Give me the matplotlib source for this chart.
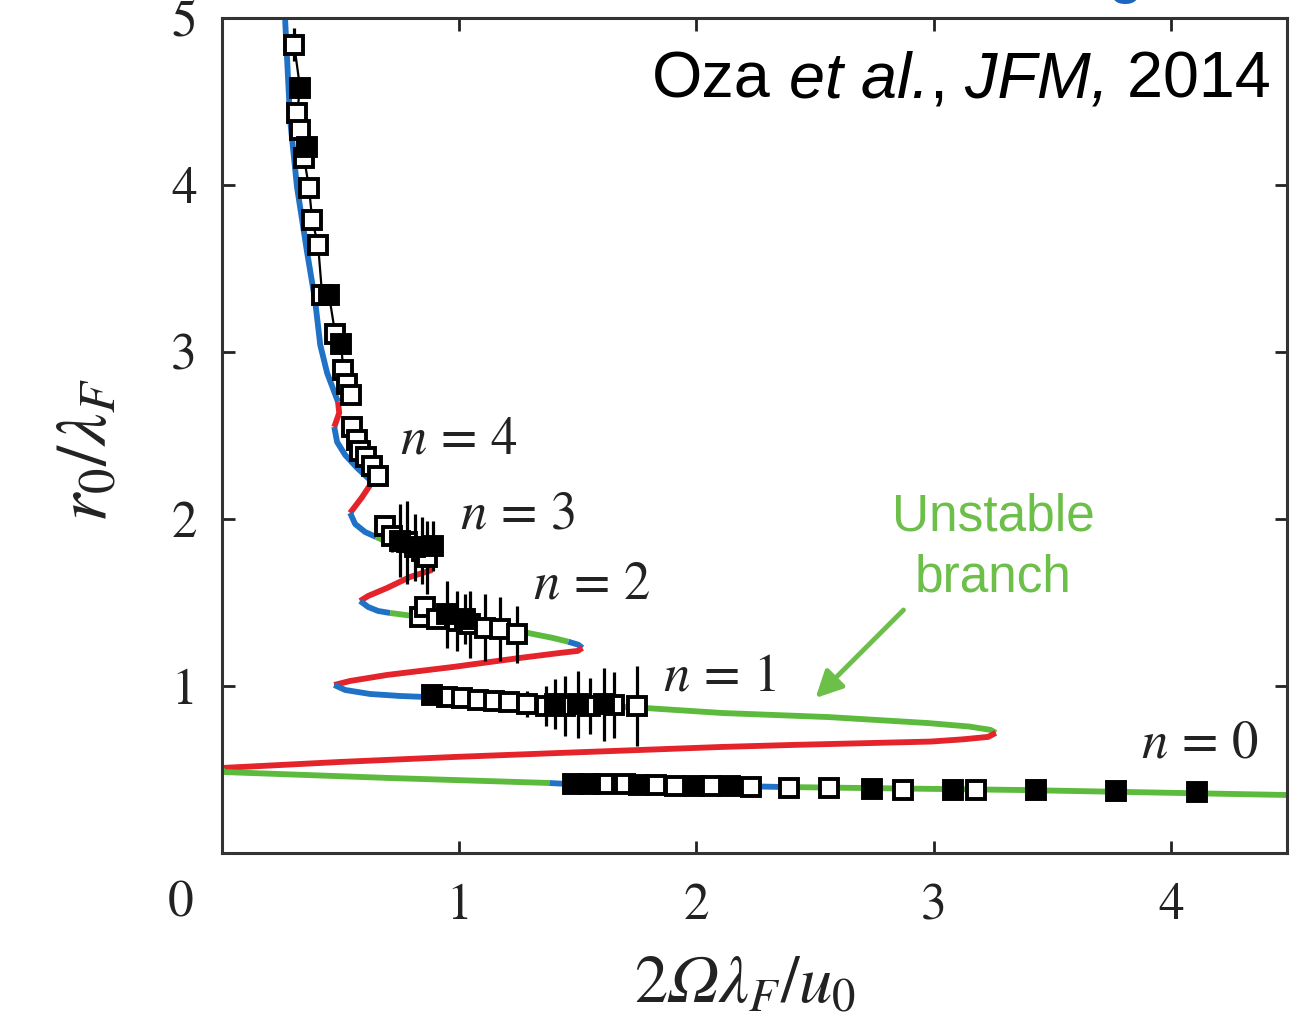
import numpy as np
import matplotlib
matplotlib.use("Agg")
import matplotlib.pyplot as plt

plt.rcParams["font.family"] = "STIXGeneral"
plt.rcParams["mathtext.fontset"] = "stix"
# custom math set, used only for the axis labels (italic capital Omega)
plt.rcParams["mathtext.rm"] = "STIXGeneral"
plt.rcParams["mathtext.it"] = "STIXGeneral:italic"
plt.rcParams["mathtext.sf"] = "STIXGeneral:italic"

BLUE = "#1f72c6"
RED = "#e4232a"
GREEN = "#5cba3c"
LABEL_GREEN = "#6cbf48"

# theory curve, traced in order from the top
curve_x = [0.266, 0.287, 0.316, 0.359, 0.392, 0.414, 0.443, 0.489,
           0.494, 0.473,
           0.485, 0.519, 0.570, 0.633,
           0.591, 0.540,
           0.561, 0.603, 0.650,
           0.751, 0.835, 0.886,
           0.793, 0.696, 0.616, 0.582,
           0.616, 0.658, 0.709,
           0.806, 1.046, 1.270, 1.397, 1.460,
           1.502, 1.519,
           1.500, 1.426, 1.257, 0.975, 0.696, 0.540, 0.473,
           0.519, 0.624, 0.751, 0.857,
           1.342, 1.785, 2.110, 2.553, 2.975, 3.150, 3.240, 3.262,
           3.230, 3.120, 2.987, 2.409, 2.110, 1.426, 0.983, 0.498, 0.0,
           0.0, 0.705, 1.380,
           1.456, 2.165, 2.363,
           3.367, 4.494]
curve_y = [4.988, 4.389, 3.988, 3.593, 3.311, 3.042, 2.874, 2.701,
           2.635, 2.551,
           2.461, 2.383, 2.305, 2.222,
           2.132, 2.036,
           1.970, 1.922, 1.892,
           1.826, 1.754, 1.695,
           1.653, 1.587, 1.539, 1.509,
           1.473, 1.449, 1.437,
           1.419, 1.365, 1.323, 1.287, 1.265,
           1.247, 1.228,
           1.210, 1.198, 1.168, 1.114, 1.066, 1.030, 1.006,
           0.976, 0.952, 0.940, 0.934,
           0.898, 0.868, 0.838, 0.814, 0.778, 0.757, 0.737, 0.719,
           0.695, 0.680, 0.667, 0.647, 0.635, 0.599, 0.575, 0.545, 0.509,
           0.485, 0.449, 0.419,
           0.413, 0.401, 0.395,
           0.377, 0.347]
# last point index of each coloured piece (next piece starts there)
piece_ends = [7, 9, 13, 15, 18, 21, 25, 28, 33, 35, 42, 46, 54, 63, 66, 69, 71]
piece_cols = [BLUE, RED, BLUE, RED, BLUE, GREEN, RED, BLUE, GREEN, BLUE,
              RED, BLUE, GREEN, RED, GREEN, BLUE, GREEN]

# experimental data
top_x = [0.304, 0.329, 0.316, 0.329, 0.359, 0.346, 0.367, 0.380, 0.405, 0.422,
         0.451, 0.477, 0.502, 0.511, 0.527, 0.544]
top_y = [4.84, 4.58, 4.43, 4.33, 4.23, 4.16, 3.98, 3.79, 3.64, 3.34,
         3.34, 3.11, 3.05, 2.89, 2.81, 2.74]
top_fill = [0, 1, 0, 0, 1, 0, 0, 0, 0, 0, 1, 0, 1, 0, 0, 0]
top_err = [0.1, 0.05, 0.03, 0.03, 0.05, 0.03, 0.04, 0.03, 0.03, 0.03,
           0.03, 0.03, 0.06, 0.04, 0.03, 0.03]

n4_x = [0.549, 0.570, 0.582, 0.608, 0.633, 0.658]
n4_y = [2.55, 2.47, 2.41, 2.37, 2.32, 2.26]
n4_fill = [0, 0, 0, 0, 0, 0]
n4_err = [0.03, 0.03, 0.03, 0.03, 0.03, 0.03]

n3_x = [0.688, 0.717, 0.751, 0.781, 0.814, 0.844, 0.865, 0.890]
n3_y = [1.96, 1.90, 1.87, 1.86, 1.83, 1.81, 1.77, 1.84]
n3_fill = [0, 0, 1, 0, 1, 0, 0, 1]
n3_err = [0.05, 0.1, 0.22, 0.25, 0.2, 0.2, 0.22, 0.15]

n2_x = [0.835, 0.857, 0.907, 0.949, 0.992, 1.025, 1.046, 1.110, 1.173, 1.245]
n2_y = [1.41, 1.47, 1.40, 1.43, 1.39, 1.40, 1.37, 1.35, 1.34, 1.31]
n2_fill = [0, 0, 0, 1, 0, 1, 0, 0, 0, 0]
n2_err = [0.02, 0.02, 0.05, 0.2, 0.18, 0.15, 0.2, 0.2, 0.19, 0.17]

n1_x = [0.886, 0.949, 1.013, 1.080, 1.148, 1.211, 1.287, 1.367, 1.405, 1.447,
        1.500, 1.553, 1.610, 1.654, 1.751]
n1_y = [0.946, 0.934, 0.928, 0.916, 0.910, 0.904, 0.892, 0.880, 0.890, 0.880,
        0.890, 0.880, 0.890, 0.886, 0.880]
n1_fill = [1, 0, 0, 0, 0, 0, 0, 0, 1, 0, 1, 0, 1, 0, 0]
n1_err = [0.02, 0.02, 0.02, 0.02, 0.02, 0.02, 0.08, 0.12, 0.15, 0.18,
          0.2, 0.17, 0.22, 0.2, 0.24]

n0_x = [1.48, 1.55, 1.61, 1.70, 1.76, 1.83, 1.91, 1.99, 2.06, 2.14,
        2.23, 2.39, 2.56, 2.74, 2.87, 3.08, 3.18, 3.43, 3.77, 4.11]
n0_y = [0.415, 0.415, 0.41, 0.41, 0.405, 0.405, 0.40, 0.40, 0.40, 0.40,
        0.395, 0.39, 0.39, 0.385, 0.38, 0.38, 0.38, 0.375, 0.37, 0.365]
n0_fill = [1, 1, 0, 0, 1, 0, 0, 1, 0, 1, 0, 0, 0, 1, 0, 1, 0, 1, 1, 1]

x_ticks = [0, 1, 2, 3, 4]
y_ticks = [0, 1, 2, 3, 4, 5]

fig = plt.figure(figsize=(13.07, 10.22), dpi=100)
ax = fig.add_axes([0.1699, 0.1654, 0.8148, 0.8170])

start = 0
for end, col in zip(piece_ends, piece_cols):
    ax.plot(curve_x[start:end + 1], curve_y[start:end + 1], color=col, lw=4.2,
            solid_capstyle="butt", solid_joinstyle="round", zorder=2)
    start = end


def draw_points(xs, ys, fills, errs=None, joined=False):
    xs = np.array(xs)
    ys = np.array(ys)
    if joined:
        ax.plot(xs, ys, color="black", lw=1.6, zorder=3)
    if errs is not None:
        ax.errorbar(xs, ys, yerr=errs, fmt="none", ecolor="black",
                    elinewidth=2.3, capsize=0, zorder=3)
    fills = np.array(fills, dtype=bool)
    ax.plot(xs[~fills], ys[~fills], "s", ms=12.5, mfc="white", mec="black",
            mew=2.8, ls="none", zorder=4)
    ax.plot(xs[fills], ys[fills], "s", ms=12.5, mfc="black", mec="black",
            mew=2.8, ls="none", zorder=4)


draw_points(top_x, top_y, top_fill, top_err, joined=True)
draw_points(n4_x, n4_y, n4_fill, n4_err, joined=True)
draw_points(n3_x, n3_y, n3_fill, n3_err)
draw_points(n2_x, n2_y, n2_fill, n2_err)
draw_points(n1_x, n1_y, n1_fill, n1_err)
draw_points(n0_x, n0_y, n0_fill)

ax.set_xlim(0, 4.49)
ax.set_ylim(0, 5)
ax.set_xticks(x_ticks)
ax.set_xticklabels([""] + [str(t) for t in x_ticks[1:]])
ax.set_yticks(y_ticks)
ax.set_yticklabels([""] + [str(t) for t in y_ticks[1:]])
ax.tick_params(direction="in", length=9, width=2, top=True, right=True,
               labelsize=37, colors="#222222")
ax.tick_params(axis="x", pad=22)
ax.tick_params(axis="y", pad=18)
for s in ax.spines.values():
    s.set_linewidth(2.2)
    s.set_color("#333333")
ax.text(-0.039, -0.062, "0", transform=ax.transAxes, fontsize=37,
        ha="center", va="center", color="#222222")

ax.set_xlabel(r"$2\mathsf{\Omega}\lambda_F/u_0$", fontsize=48,
              math_fontfamily="custom", color="#222222")
ax.xaxis.set_label_coords(0.491, -0.124)
ax.set_ylabel(r"$r_0/\lambda_F$", fontsize=52, math_fontfamily="custom",
              color="#222222")
ax.yaxis.set_label_coords(-0.094, 0.483)

for lab, lx, ly in [("4", 0.751, 2.47), ("3", 1.004, 2.02), ("2", 1.312, 1.60),
                    ("1", 1.861, 1.05), ("0", 3.873, 0.647)]:
    ax.text(lx, ly, r"$n\,=\," + lab + "$", fontsize=38, ha="left",
            va="center", color="#222222")

# citation, written piece by piece so the italic parts sit in line
t = ax.text(0.404, 0.905, "Oza", transform=ax.transAxes, fontsize=46.6,
            family="Liberation Sans", ha="left", va="baseline")
for piece, style in [(" et al.", "italic"), (",", "normal"),
                     (" JFM,", "italic"), (" 2014", "normal")]:
    t = ax.annotate(piece, xy=(1, 0), xycoords=t, fontsize=46.6,
                    family="Liberation Sans", style=style,
                    ha="left", va="bottom")

ax.text(3.25, 1.83, "Unstable\nbranch", fontsize=37, color=LABEL_GREEN,
        ha="center", va="center", family="Liberation Sans", linespacing=1.3)
ax.annotate("", xy=(2.502, 0.928), xytext=(2.873, 1.455),
            arrowprops=dict(arrowstyle="-|>", color=LABEL_GREEN, lw=3.5,
                            mutation_scale=40, shrinkA=0, shrinkB=0))

# bottom of a word cut off above the figure
fig.text(1126 / 1307, 1 + 8 / 1022, "g", fontsize=40, color="#1a66c2",
         fontweight="bold", family="Liberation Sans", ha="center",
         va="baseline")

fig.savefig("out.png", dpi=100)
